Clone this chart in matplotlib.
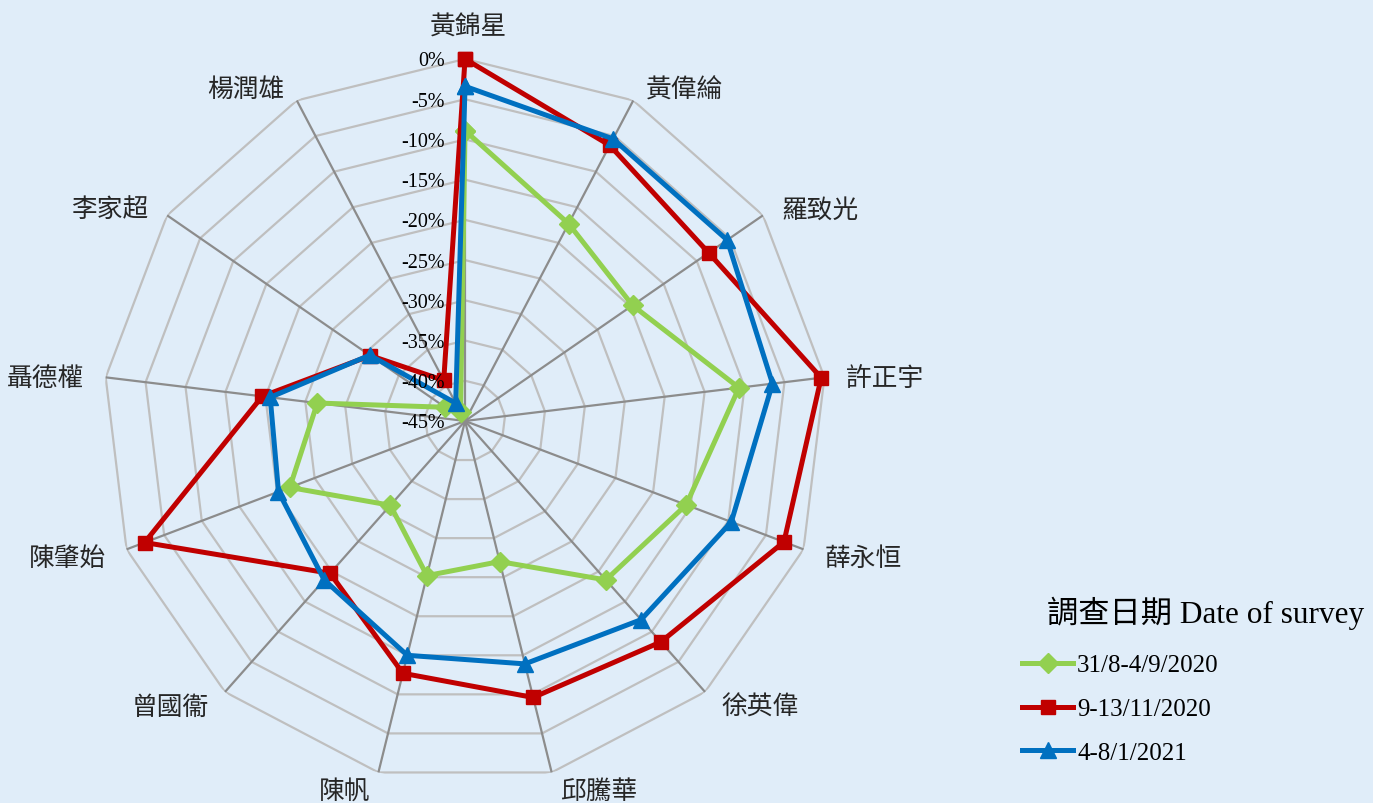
import numpy as np
import matplotlib

matplotlib.use("Agg")
import matplotlib.pyplot as plt
from matplotlib.lines import Line2D

CATEGORIES = ["黃錦星", "黃偉綸", "羅致光", "許正宇", "薛永恒", "徐英偉", "邱騰華",
              "陳帆", "曾國衞", "陳肇始", "聶德權", "李家超", "楊潤雄"]
SERIES_LABELS = ["31/8-4/9/2020", "9-13/11/2020", "4-8/1/2021"]
GREEN_VALUES = [-8.9, -17.3, -19.7, -10.7, -15.6, -18.6, -27.0, -25.2, -31.0, -21.7, -26.5, -42.0, -43.8]
RED_VALUES = [0.0, -6.3, -8.2, -0.4, -2.6, -8.3, -9.6, -12.7, -19.7, -2.4, -19.6, -30.7, -39.3]
BLUE_VALUES = [-3.4, -5.4, -5.4, -6.5, -9.6, -12.0, -13.9, -15.0, -18.6, -20.2, -20.6, -30.6, -42.5]
RING_TICKS = [0, -5, -10, -15, -20, -25, -30, -35, -40, -45]
LEGEND_TITLE = "調查日期 Date of survey"

BG = "#E0EDF9"
CJK = ["Noto Sans CJK TC", "DejaVu Sans"]
SERIF = ["Liberation Serif", "Noto Sans CJK TC"]

fig = plt.figure(figsize=(13.73, 8.04), dpi=100, facecolor=BG)
ax = fig.add_axes([0.075, 0.0249, 0.5274, 0.9005], projection="polar")
ax.set_facecolor("none")
ax.set_theta_zero_location("N")
ax.set_theta_direction(-1)
ax.set_ylim(-45, 0)
ax.grid(False)
ax.spines["polar"].set_visible(False)
ax.set_xticks([])
ax.set_yticks([])

n = len(CATEGORIES)
theta = np.arange(n) * 2 * np.pi / n
closed = np.append(theta, theta[0])

# polygon rings
for v in RING_TICKS[:-1]:
    ax.plot(closed, [v] * (n + 1), color="#BFBFBF", lw=1.6, zorder=1)
# spokes
for t in theta:
    ax.plot([t, t], [-45, 0], color="#8C8C8C", lw=1.6, zorder=2)

styles = [
    (GREEN_VALUES, "#92D050", "D", 10),
    (RED_VALUES, "#C00000", "s", 10),
    (BLUE_VALUES, "#0070C0", "^", 12),
]
handles = []
for (vals, color, marker, ms), label in zip(styles, SERIES_LABELS):
    ax.plot(closed, vals + vals[:1], color=color, lw=3.6, marker=marker,
            markersize=ms, markeredgecolor=color, zorder=3, clip_on=False)
    handles.append(Line2D([], [], color=color, lw=3.6, marker=marker,
                          markersize=ms, markeredgecolor=color, label=label))

# radial value labels along the top spoke
for v in RING_TICKS:
    ax.annotate(f"{v}%", xy=(0, v), xytext=(-20, -2), textcoords="offset pixels",
                ha="right", va="center", fontsize=14.5, family=SERIF, color="#000000")

# category labels
for t, name in zip(theta, CATEGORIES):
    s, c = np.sin(t), np.cos(t)
    if abs(s) < 0.05:
        ha = "center"
        dx = 4
        dy = 32 if c > 0 else -38
    else:
        ha = "left" if s > 0 else "right"
        dx = (18 * abs(s) + 4) * np.sign(s)
        dy = 16 * c - 3
    ax.annotate(name, xy=(t, 0), xytext=(dx, dy), textcoords="offset pixels",
                ha=ha, va="center", fontsize=18.5, family=CJK, color="#262626",
                annotation_clip=False)

fig.text(1047 / 1373, 1 - 613 / 804, LEGEND_TITLE, fontsize=22.5, family=SERIF,
         ha="left", va="center", color="#000000")
fig.legend(handles=handles, loc="upper left", bbox_to_anchor=(1012 / 1373, 1 - 645 / 804),
           frameon=False, prop={"family": SERIF, "size": 18}, handlelength=2.05,
           handletextpad=0.15, labelspacing=0.85, borderaxespad=0)

fig.savefig("out.png", dpi=100, facecolor=BG)
